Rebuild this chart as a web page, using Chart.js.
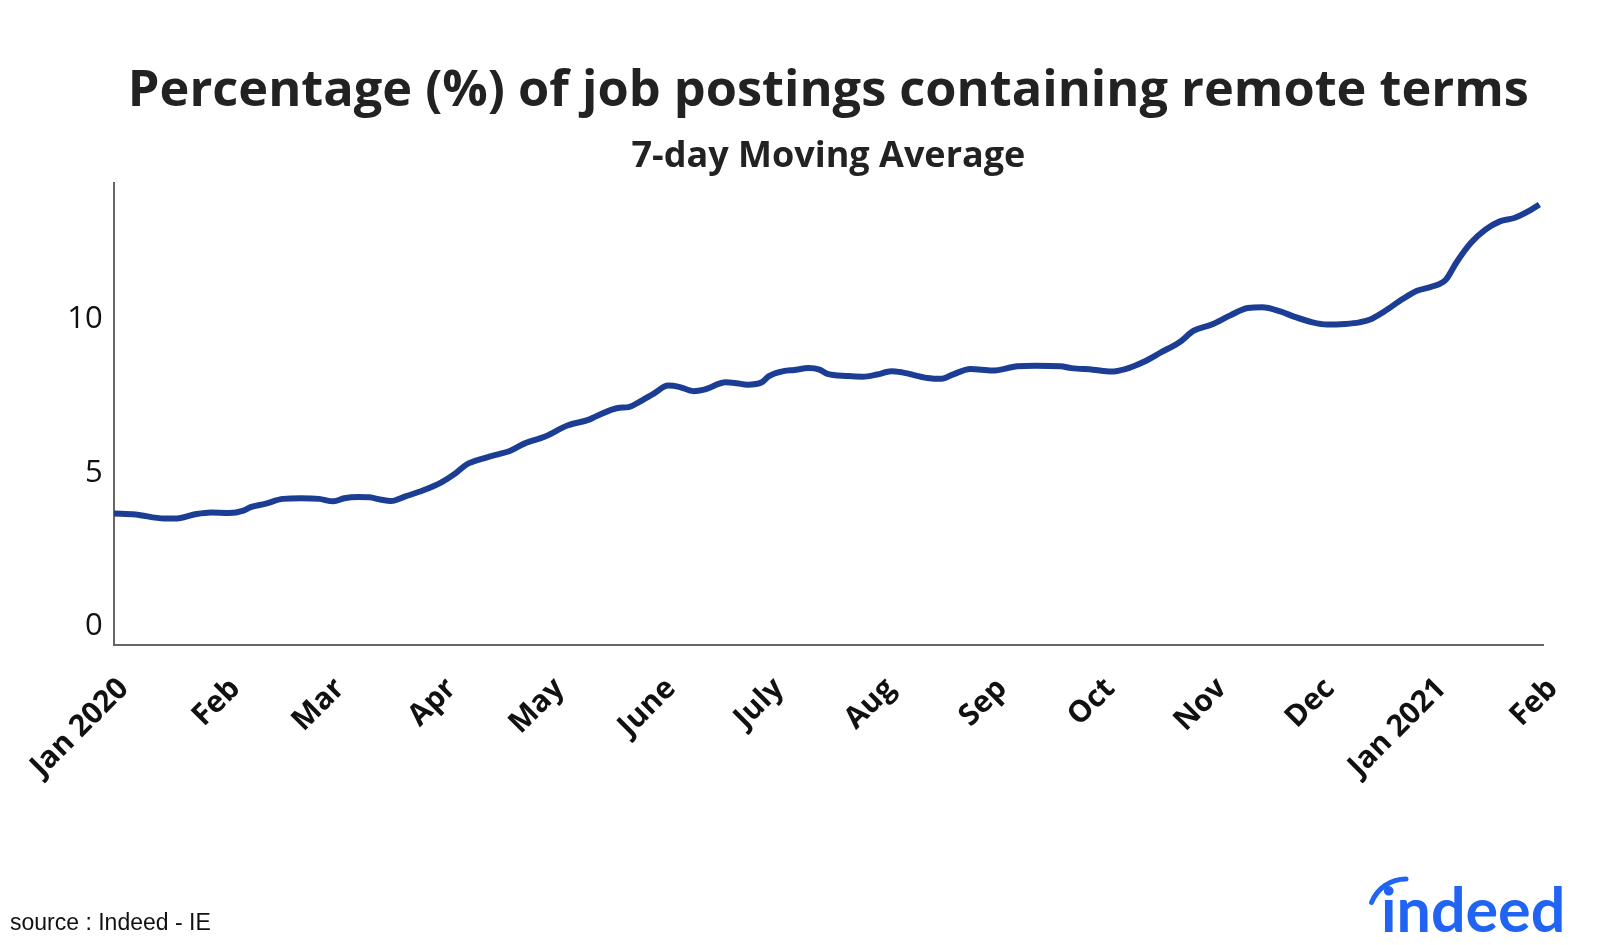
<!DOCTYPE html>
<html>
<head>
<meta charset="utf-8">
<script src="https://cdn.jsdelivr.net/npm/chart.js@4"></script>
<style>
  html, body { margin: 0; padding: 0; background: #fff; }
  #wrap { width: 1600px; height: 945px; position: relative; }
</style>
</head>
<body>
<div id="wrap"><canvas id="remote"></canvas></div>
<script>
// jours depuis le 1er janvier 2020
var days = [0, 6, 14, 17, 23, 27, 32, 36, 38, 42, 47, 52, 57, 61, 64, 68, 71, 74, 77, 81,
  86, 91, 95, 98, 103, 107, 110, 114, 120, 126, 132, 134, 140, 143, 146, 150, 154, 157, 161, 164,
  170, 173, 176, 180, 182, 186, 189, 193, 196, 198, 204, 208, 212, 216, 219, 226, 230, 233, 238, 244,
  251, 256, 263, 266, 272, 277, 281, 286, 291, 296, 300, 305, 310, 315, 319, 324, 328, 333, 337, 342,
  346, 349, 353, 358, 362, 366, 370, 373, 377, 381, 385, 389, 393, 396];
var remoteShare = [3.68, 3.65, 3.52, 3.52, 3.67, 3.72, 3.70, 3.78, 3.89, 4.00, 4.16, 4.18, 4.16, 4.08, 4.18, 4.22, 4.21, 4.14, 4.09, 4.24,
  4.44, 4.70, 5.00, 5.28, 5.49, 5.62, 5.72, 5.96, 6.20, 6.55, 6.74, 6.85, 7.12, 7.15, 7.32, 7.59, 7.85, 7.81, 7.67, 7.72,
  7.96, 7.93, 7.88, 7.96, 8.16, 8.32, 8.36, 8.42, 8.37, 8.24, 8.16, 8.14, 8.21, 8.32, 8.28, 8.10, 8.07, 8.21, 8.39, 8.34,
  8.48, 8.50, 8.48, 8.42, 8.37, 8.31, 8.39, 8.62, 8.94, 9.26, 9.64, 9.84, 10.13, 10.38, 10.40, 10.27, 10.09, 9.91, 9.84, 9.86,
  9.91, 10.00, 10.27, 10.67, 10.94, 11.07, 11.30, 11.87, 12.50, 12.93, 13.20, 13.31, 13.53, 13.75];
var monthDays = [0, 31, 60, 91, 121, 152, 182, 213, 244, 274, 305, 335, 366, 397];
var monthLabels = ['Jan 2020', 'Feb', 'Mar', 'Apr', 'May', 'June', 'July', 'Aug', 'Sep', 'Oct', 'Nov', 'Dec', 'Jan 2021', 'Feb'];
var yTicks = [0, 5, 10];

var points = days.map(function (d, i) { return { x: d, y: remoteShare[i] }; });

// titre, source et logo
var decor = {
  id: 'decor',
  afterDraw: function (chart) {
    var c = chart.ctx, area = chart.chartArea;
    var mid = (area.left + area.right) / 2;
    c.save();
    c.fillStyle = '#222';
    c.textAlign = 'center';
    c.textBaseline = 'alphabetic';
    c.font = 'bold 50.5px "Open Sans"';
    c.fillText('Percentage (%) of job postings containing remote terms', mid, 106);
    c.font = 'bold 36px "Open Sans"';
    c.fillText('7-day Moving Average', mid, 167);

    c.textAlign = 'left';
    c.font = '23px "Liberation Sans"';
    c.fillStyle = '#111';
    c.fillText('source : Indeed - IE', 10, 930);

    c.fillStyle = '#2164f3';
    c.font = 'bold 61px "Lato"';
    c.fillText('indeed', 1381, 932);
    c.strokeStyle = '#2164f3';
    c.lineWidth = 5;
    c.lineCap = 'round';
    c.beginPath();
    c.arc(1406, 916, 37, Math.PI * 1.12, Math.PI * 1.5);
    c.stroke();
    c.restore();
  }
};

var ctx = document.getElementById('remote').getContext('2d');
var chart = new Chart(ctx, {
  type: 'line',
  data: {
    datasets: [{
      label: 'remote',
      data: points,
      borderColor: '#1b3d94',
      borderWidth: 6,
      pointRadius: 0,
      cubicInterpolationMode: 'monotone',
      fill: false
    }]
  },
  options: {
    responsive: true,
    maintainAspectRatio: false,
    animation: false,
    layout: { padding: { top: 183, right: 57, left: 0, bottom: 0 } },
    plugins: {
      legend: { display: false },
      tooltip: { enabled: false }
    },
    scales: {
      x: {
        type: 'linear',
        min: 0,
        max: 397,
        afterBuildTicks: function (scale) {
          scale.ticks = monthDays.map(function (d) { return { value: d }; });
        },
        afterFit: function (scale) { scale.height = 300; },
        grid: { display: false, drawTicks: false },
        border: { display: true, color: '#666', width: 2 },
        ticks: {
          autoSkip: false,
          maxRotation: 45,
          minRotation: 45,
          padding: 26,
          labelOffset: 10,
          color: '#111',
          font: { family: 'Open Sans', size: 30, weight: 'bold' },
          callback: function (value) {
            var i = monthDays.indexOf(value);
            return i >= 0 ? monthLabels[i] : '';
          }
        }
      },
      y: {
        min: -0.6,
        max: 14.45,
        afterBuildTicks: function (scale) {
          scale.ticks = yTicks.map(function (v) { return { value: v }; });
        },
        afterFit: function (scale) { scale.width = 113; },
        grid: { display: false, drawTicks: false },
        border: { display: true, color: '#666', width: 2 },
        ticks: {
          padding: 11,
          color: '#111',
          font: { family: 'Open Sans', size: 31 }
        }
      }
    }
  },
  plugins: [decor]
});
</script>
</body>
</html>
